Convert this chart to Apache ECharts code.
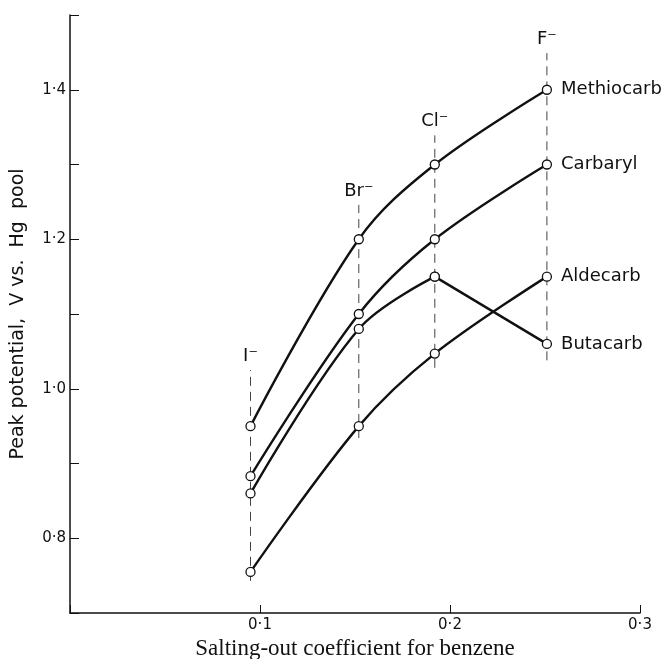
<!DOCTYPE html>
<html>
<head>
<meta charset="utf-8">
<script src="https://cdn.jsdelivr.net/npm/echarts@6/dist/echarts.min.js"></script>
<style>
  html, body { margin: 0; padding: 0; background: #fff; }
  #chart { width: 665px; height: 659px; }
</style>
</head>
<body>
<div id="chart"></div>
<script>
// Halide ions and their salting-out coefficients (x positions of the dashed guides)
const ions = ['I⁻', 'Br⁻', 'Cl⁻', 'F⁻'];
const ionX = [0.095, 0.152, 0.192, 0.251];
// vertical extent of each dashed guide
const guideBottom = [0.743, 0.934, 1.028, 1.038];
const guideTop = [1.025, 1.246, 1.339, 1.449];

// Peak potentials (V vs. Hg pool) for each carbamate, in ion order
const methiocarb = [0.95, 1.20, 1.30, 1.40];
const carbaryl = [0.883, 1.10, 1.20, 1.30];
const butacarb = [0.86, 1.08, 1.15, 1.06];
const aldecarb = [0.755, 0.95, 1.047, 1.15];

const xTickValues = [0.1, 0.2, 0.3];
const yLabelValues = [0.8, 1.0, 1.2, 1.4];

const fmt = v => v.toFixed(1).replace('.', '·');
const pts = (ys, from, to) => ys.slice(from, to).map((y, i) => [ionX[from + i], y]);

const ink = '#111';
const sans = 'DejaVu Sans';

const curveStyle = {
  type: 'line',
  symbol: 'circle',
  symbolSize: 9,
  itemStyle: { color: '#fff', borderColor: ink, borderWidth: 1.3 },
  lineStyle: { color: ink, width: 2.4 },
  z: 5
};

function curve(name, ys, from, to, withLabel, smooth) {
  const data = pts(ys, from, to).map((p, i, arr) => {
    const item = { value: p };
    if (withLabel && i === arr.length - 1) {
      item.label = {
        show: true, position: 'right', distance: 9,
        formatter: name, color: ink, fontFamily: sans, fontSize: 18
      };
    }
    return item;
  });
  return Object.assign({}, curveStyle, { name, data, smooth: smooth });
}

const series = [];

// dashed guides at each ion
ions.forEach((ion, i) => {
  series.push({
    type: 'line',
    data: [[ionX[i], guideBottom[i]], [ionX[i], guideTop[i]]],
    symbol: 'none',
    lineStyle: { color: '#444', width: 1, type: [9, 6] },
    z: 2
  });
});

// ion names above the guides
series.push({
  type: 'scatter',
  data: ions.map((ion, i) => ({ value: [ionX[i], guideTop[i]], name: ion })),
  symbolSize: 0,
  itemStyle: { color: ink, opacity: 1 },
  label: {
    show: true, position: 'top', distance: 5,
    formatter: p => p.name, color: ink, fontFamily: sans, fontSize: 18
  },
  z: 3
});

series.push(curve('Methiocarb', methiocarb, 0, 4, true, 0.35));
series.push(curve('Carbaryl', carbaryl, 0, 4, true, 0.35));
series.push(curve('Aldecarb', aldecarb, 0, 4, true, 0.35));
// Butacarb bends sharply at Cl⁻: curved up to Cl⁻, straight to F⁻
series.push(curve('Butacarb', butacarb, 0, 3, false, 0.35));
series.push(curve('Butacarb', butacarb, 2, 4, true, false));

const chart = echarts.init(document.getElementById('chart'), null, { renderer: 'canvas' });
chart.setOption({
  animation: false,
  backgroundColor: '#fff',
  grid: { left: 70, right: 25, top: 15, bottom: 46, containLabel: false, outerBoundsMode: 'none' },
  xAxis: {
    type: 'value',
    min: 0, max: 0.3, interval: 0.1,
    name: 'Salting-out coefficient for benzene',
    nameLocation: 'middle', nameGap: 19,
    nameTextStyle: { fontFamily: 'Liberation Serif', fontSize: 23, color: ink },
    axisLine: { lineStyle: { color: ink, width: 1.5 } },
    axisTick: { inside: true, length: 8, lineStyle: { color: ink, width: 1 } },
    axisLabel: {
      margin: 5, color: ink, fontFamily: sans, fontSize: 15,
      formatter: v => xTickValues.some(t => Math.abs(t - v) < 1e-9) ? fmt(v) : ''
    },
    splitLine: { show: false }
  },
  yAxis: {
    type: 'value',
    min: 0.7, max: 1.5, interval: 0.1,
    name: 'Peak potential,  V vs.  Hg  pool',
    nameLocation: 'middle', nameGap: 42, nameRotate: 90,
    nameTextStyle: { fontFamily: sans, fontSize: 19, color: ink },
    axisLine: { lineStyle: { color: ink, width: 1.5 } },
    axisTick: { inside: true, length: 9, lineStyle: { color: ink, width: 1 } },
    axisLabel: {
      margin: 4, color: ink, fontFamily: sans, fontSize: 15,
      formatter: v => yLabelValues.some(t => Math.abs(t - v) < 1e-9) ? fmt(v) : ''
    },
    splitLine: { show: false }
  },
  series: series
});
</script>
</body>
</html>
